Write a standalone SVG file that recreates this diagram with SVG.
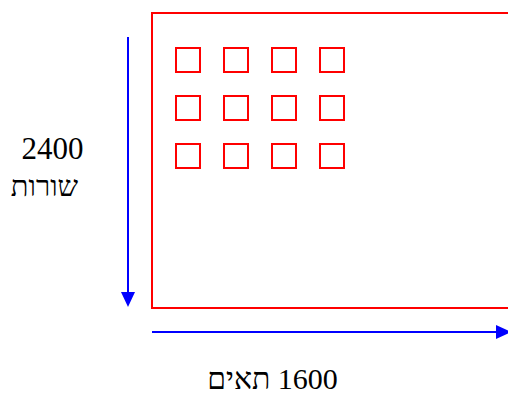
<svg xmlns="http://www.w3.org/2000/svg" width="508" height="397" viewBox="0 0 508 397">
<defs>
<style>
.r{fill:none;stroke:#FF0000;stroke-width:2}
.ax{stroke:#0000FF;stroke-width:2;fill:none}
.t{font-family:"Liberation Serif","Times New Roman",serif;fill:#000}
</style>
<marker id="ah" viewBox="0 0 15 14" refX="0" refY="7" markerWidth="15" markerHeight="14" markerUnits="userSpaceOnUse" orient="auto">
<polygon points="0,0 15,7 0,14" fill="#0000FF"/>
</marker>
</defs>
<g id="grid">
<rect class="r" x="152" y="13" width="360" height="295"/>
<rect class="r" x="176" y="48" width="24" height="24"/>
<rect class="r" x="224" y="48" width="24" height="24"/>
<rect class="r" x="272" y="48" width="24" height="24"/>
<rect class="r" x="320" y="48" width="24" height="24"/>
<rect class="r" x="176" y="96" width="24" height="24"/>
<rect class="r" x="224" y="96" width="24" height="24"/>
<rect class="r" x="272" y="96" width="24" height="24"/>
<rect class="r" x="320" y="96" width="24" height="24"/>
<rect class="r" x="176" y="144" width="24" height="24"/>
<rect class="r" x="224" y="144" width="24" height="24"/>
<rect class="r" x="272" y="144" width="24" height="24"/>
<rect class="r" x="320" y="144" width="24" height="24"/>
</g>
<g id="connectors">
<line class="ax" x1="128" y1="37" x2="128" y2="292" marker-end="url(#ah)"/>
<line class="ax" x1="152" y1="332" x2="496" y2="332" marker-end="url(#ah)"/>
</g>
<g id="labels">
<text class="t" x="52.5" y="159" font-size="31" text-anchor="middle">2400</text>
<text class="t" x="44.5" y="196" font-size="29" text-anchor="middle" direction="rtl">שורות</text>
<text class="t" x="272.5" y="389" font-size="30" text-anchor="middle" direction="rtl">1600 תאים</text>
</g>
</svg>
